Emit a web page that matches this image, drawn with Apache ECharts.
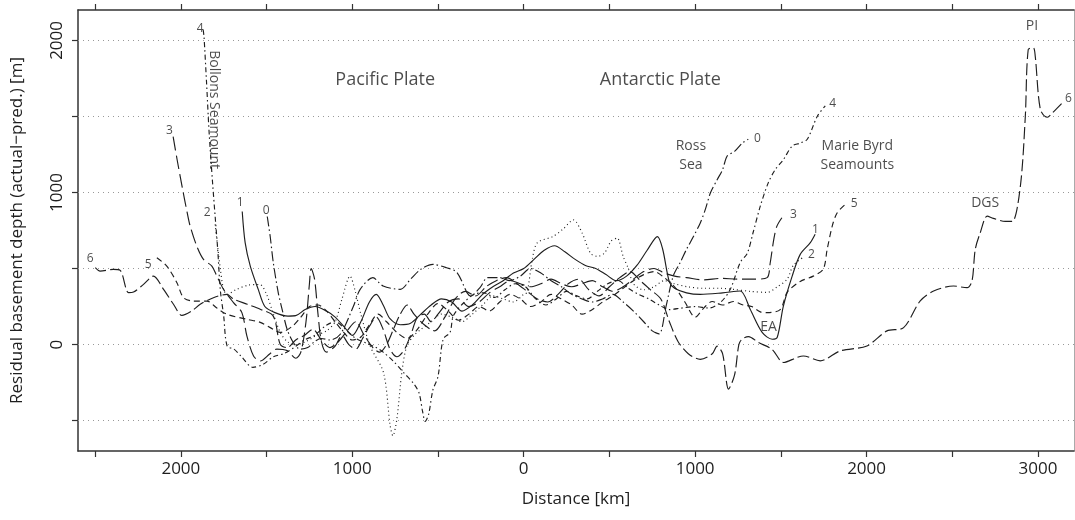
<!DOCTYPE html>
<html><head><meta charset="utf-8">
<script src="https://cdn.jsdelivr.net/npm/echarts@6/dist/echarts.min.js"></script>
<style>html,body{margin:0;padding:0;background:#fff}#c{width:1075px;height:520px}</style>
</head><body><div id="c"></div>
<script>
// Axis ticks / labels (km; negative = Pacific side, shown as absolute distance)
const xTicks = [-2500,-2000,-1500,-1000,-500,0,500,1000,1500,2000,2500,3000];
const xLabels = [-2000,-1000,0,1000,2000,3000];
const yTicks = [-500,0,500,1000,1500,2000];
const yLabels = [0,1000,2000];

// Profiles [distance km, residual depth m]
const profile0 = [[-1496,842],[-1479,712],[-1461,540],[-1432,342],[-1409,230],[-1380,100],[-1345,15],[-1304,-30],[-1260,-20],[-1220,20],[-1180,40],[-1130,30],[-1070,68],[-994,250],[-954,363],[-880,440],[-820,385],[-720,363],[-660,430],[-600,495],[-530,527],[-450,505],[-390,475],[-330,340],[-310,320],[-255,375],[-210,440],[-140,440],[-80,420],[-20,450],[40,500],[100,470],[160,420],[220,380],[280,330],[340,300],[400,280],[460,300],[520,330],[580,280],[640,220],[700,150],[750,90],[790,70],[830,250],[872,450],[913,540],[950,627],[990,710],[1030,800],[1059,887],[1090,1000],[1129,1085],[1160,1150],[1187,1240],[1230,1270],[1275,1325],[1310,1350]];
const profile1 = [[-1642,875],[-1625,670],[-1595,516],[-1548,361],[-1510,250],[-1451,210],[-1375,187],[-1330,190],[-1275,230],[-1217,250],[-1150,220],[-1100,180],[-1050,120],[-1000,60],[-950,150],[-900,280],[-860,330],[-820,260],[-780,170],[-720,130],[-660,140],[-600,200],[-540,260],[-480,300],[-420,280],[-360,220],[-300,260],[-240,330],[-180,380],[-120,420],[-60,470],[0,500],[60,560],[120,620],[180,650],[240,610],[300,560],[360,520],[420,500],[480,460],[540,420],[600,450],[660,520],[720,620],[780,710],[810,630],[850,410],[880,370],[950,340],[1030,330],[1160,340],[1263,352],[1321,232],[1391,80],[1450,35],[1479,48],[1514,250],[1566,450],[1613,593],[1672,670],[1700,725]];
const profile2 = [[-1800,790],[-1785,640],[-1770,500],[-1751,363],[-1730,330],[-1680,360],[-1610,390],[-1540,395],[-1500,330],[-1460,200],[-1420,80],[-1380,20],[-1330,0],[-1270,20],[-1210,60],[-1150,90],[-1100,150],[-1060,300],[-1013,450],[-985,360],[-950,200],[-896,-10],[-818,-184],[-779,-534],[-763,-600],[-740,-490],[-711,-184],[-682,-9],[-640,60],[-600,100],[-540,150],[-480,200],[-420,180],[-360,150],[-300,200],[-240,260],[-180,320],[-120,300],[-60,280],[0,330],[20,343],[50,560],[80,670],[170,710],[230,760],[290,820],[340,735],[390,600],[429,580],[470,600],[510,680],[545,700],[580,580],[610,500],[640,400],[700,360],[760,380],[820,420],[880,400],[954,380],[1050,370],[1150,370],[1222,363],[1320,350],[1420,343],[1480,380],[1537,430],[1572,520],[1625,570]];
const profile3 = [[-2045,1367],[-2022,1217],[-1993,1040],[-1963,867],[-1946,780],[-1907,647],[-1868,560],[-1819,516],[-1790,450],[-1751,363],[-1693,276],[-1644,210],[-1615,57],[-1576,-75],[-1537,-108],[-1480,-60],[-1440,-30],[-1380,-40],[-1330,-90],[-1300,-50],[-1270,150],[-1250,400],[-1240,500],[-1220,430],[-1200,200],[-1180,20],[-1150,-50],[-1100,-10],[-1060,60],[-1020,0],[-980,-30],[-940,40],[-900,120],[-860,180],[-820,100],[-780,-30],[-740,-80],[-700,-40],[-660,60],[-620,180],[-580,200],[-540,150],[-500,200],[-440,280],[-380,300],[-320,250],[-260,280],[-200,340],[-140,380],[-80,420],[-20,400],[40,380],[100,400],[160,430],[220,400],[280,380],[340,400],[400,420],[460,380],[520,350],[580,380],[640,430],[700,480],[760,500],[820,470],[880,450],[950,440],[1050,425],[1150,435],[1250,430],[1350,430],[1420,440],[1438,538],[1460,700],[1477,779],[1506,834]];
const profile4 = [[-1870,2070],[-1865,2025],[-1850,1720],[-1835,1393],[-1815,1064],[-1800,843],[-1785,625],[-1770,361],[-1750,186],[-1730,-10],[-1690,-30],[-1650,-75],[-1580,-150],[-1520,-130],[-1460,-80],[-1400,-60],[-1340,-20],[-1280,30],[-1220,60],[-1160,120],[-1100,150],[-1040,100],[-980,40],[-920,10],[-860,-20],[-820,-50],[-760,-110],[-700,-185],[-640,-260],[-610,-320],[-590,-440],[-575,-505],[-555,-460],[-530,-300],[-500,-210],[-470,35],[-430,80],[-410,190],[-350,275],[-290,330],[-230,340],[-170,310],[-110,360],[-50,400],[10,380],[70,300],[130,260],[190,300],[250,350],[310,320],[370,300],[430,350],[490,400],[550,420],[610,370],[670,330],[730,300],[790,260],[850,230],[920,240],[1000,250],[1080,240],[1150,280],[1205,363],[1263,540],[1304,600],[1339,740],[1380,910],[1427,1065],[1467,1150],[1514,1215],[1566,1305],[1613,1325],[1654,1350],[1712,1500],[1759,1570]];
const profile5 = [[-2140,571],[-2082,516],[-2023,407],[-1985,309],[-1926,286],[-1848,286],[-1790,240],[-1731,199],[-1615,166],[-1537,146],[-1461,100],[-1420,80],[-1350,120],[-1300,180],[-1250,250],[-1200,260],[-1150,220],[-1100,150],[-1050,80],[-1000,30],[-950,50],[-900,130],[-850,200],[-800,150],[-740,80],[-680,40],[-620,100],[-560,200],[-500,270],[-440,220],[-380,160],[-320,200],[-260,250],[-200,220],[-140,280],[-80,330],[-20,300],[40,250],[100,280],[160,330],[220,300],[280,260],[340,200],[400,230],[460,280],[520,320],[580,370],[640,420],[700,460],[760,480],[820,440],[880,380],[940,280],[1000,180],[1050,240],[1100,283],[1160,260],[1222,283],[1280,260],[1330,250],[1380,215],[1420,210],[1496,230],[1537,343],[1613,415],[1689,450],[1747,495],[1770,625],[1800,780],[1829,867],[1887,933]];
const profile6 = [[-2499,506],[-2471,483],[-2394,494],[-2354,488],[-2305,341],[-2276,345],[-2218,396],[-2160,450],[-2101,363],[-2043,265],[-1994,192],[-1936,221],[-1887,265],[-1810,308],[-1731,330],[-1694,300],[-1613,265],[-1537,232],[-1461,187],[-1420,0],[-1380,-20],[-1330,30],[-1280,60],[-1230,100],[-1180,30],[-1130,-20],[-1080,20],[-1030,90],[-980,150],[-930,60],[-880,-20],[-840,-50],[-800,0],[-760,100],[-720,200],[-680,260],[-640,200],[-580,130],[-520,90],[-460,180],[-400,300],[-340,350],[-280,320],[-220,380],[-160,420],[-100,440],[-40,400],[20,350],[80,300],[140,280],[200,330],[260,400],[320,430],[380,360],[440,320],[500,380],[560,440],[620,480],[680,420],[740,360],[800,300],[850,150],[900,20],[960,-60],[1030,-97],[1100,-60],[1128,-10],[1160,-60],[1195,-293],[1230,-200],[1255,0],[1273,35],[1311,52],[1370,13],[1448,-31],[1516,-118],[1594,-85],[1631,-75],[1730,-107],[1846,-42],[2002,-9],[2119,90],[2216,111],[2313,287],[2391,352],[2507,385],[2586,374],[2615,418],[2634,626],[2663,735],[2704,845],[2739,830],[2809,810],[2850,810],[2897,1040],[2926,1500],[2943,1940],[2973,1950],[2984,1895],[3014,1545],[3055,1495],[3085,1525],[3142,1590]];

// Annotations [distance km, depth m, text]
const titleNotes = [[-808,1742,'Pacific Plate'],[797,1742,'Antarctic Plate']];
const featureNotes = [[975,1246,'Ross\nSea'],[1946,1246,'Marie Byrd\nSeamounts'],[2692,933,'DGS'],[2965,2097,'PI'],[1428,118,'EA']];
const rotatedNotes = [[-1805,1545,'Bollons Seamount']];
const profileNumbers = [[-2529,565,'6'],[-2190,526,'5'],[-2067,1407,'3'],[-1887,2077,'4'],[-1846,868,'2'],[-1654,932,'1'],[-1502,880,'0'],
  [1363,1354,'0'],[1802,1582,'4'],[1574,855,'3'],[1701,757,'1'],[1678,593,'2'],[1928,928,'5'],[3178,1617,'6']];

const profiles = [profile0,profile1,profile2,profile3,profile4,profile5,profile6];
const dashes = [[10,3,1.5,3],'solid',[1,3],[14,5],[5,3,1.5,3],[6,4],[12,4]];

const FONT = '"Open Sans", "Noto Sans", sans-serif';
const ink = '#1e1e1e';

const series = profiles.map((p,i)=>({
  type:'line', name:'Profile '+i, data:p, showSymbol:false, symbol:'none',
  smooth:0.3, z:3,
  lineStyle:{color:ink, width:1.15, type:dashes[i]}
}));
// dotted grid lines
series[0].markLine = {
  silent:true, symbol:'none', z:1,
  label:{show:false},
  lineStyle:{color:'#999', type:[1,4], width:1},
  data: yTicks.map(v=>({yAxis:v}))
};
function noteSeries(arr, size, rotate){
  return {
    type:'scatter', data:arr.map(a=>({value:[a[0],a[1]], text:a[2]})), symbolSize:0, z:5, silent:true,
    label:{show:true, position:'inside', formatter:p=>p.data.text, fontFamily:FONT, fontSize:size,
      color:ink, rotate:rotate||0, lineHeight:Math.round(size*1.35), align:'center', verticalAlign:'middle'}
  };
}
series.push(noteSeries(titleNotes,18));
series.push(noteSeries(featureNotes,14));
series.push(noteSeries(rotatedNotes,14,-90));
series.push(noteSeries(profileNumbers,12));

const axisLineStyle = {color:'#333', width:1.5};
const option = {
  animation:false,
  backgroundColor:'#fff',
  grid:{left:78, right:1, top:10, bottom:69},
  xAxis:[{
    type:'value', min:-2600, max:3210,
    axisLine:{show:true, onZero:false, lineStyle:axisLineStyle},
    axisTick:{show:true, customValues:xTicks, length:6, lineStyle:{color:'#333', width:1.2}},
    axisLabel:{customValues:xLabels, formatter:v=>String(Math.abs(v)), fontFamily:FONT, fontSize:17, color:ink, margin:10},
    splitLine:{show:false},
    name:'Distance [km]', nameLocation:'middle', nameGap:40,
    nameTextStyle:{fontFamily:FONT, fontSize:17, color:ink}
  },{
    type:'value', position:'top', min:-2600, max:3210,
    axisLine:{show:true, onZero:false, lineStyle:axisLineStyle},
    axisTick:{show:true, customValues:xTicks, length:6, lineStyle:{color:'#333', width:1.2}},
    axisLabel:{show:false}, splitLine:{show:false}
  }],
  yAxis:[{
    type:'value', min:-700, max:2200,
    axisLine:{show:true, onZero:false, lineStyle:axisLineStyle},
    axisTick:{show:true, customValues:yTicks, length:6, lineStyle:{color:'#333', width:1.2}},
    axisLabel:{customValues:yLabels, formatter:v=>String(v), rotate:90, fontFamily:FONT, fontSize:17, color:ink, margin:12},
    splitLine:{show:false},
    name:'Residual basement depth (actual\u2212pred.) [m]', nameLocation:'middle', nameGap:52,
    nameTextStyle:{fontFamily:FONT, fontSize:17, color:ink}
  },{
    type:'value', position:'right', min:-700, max:2200,
    axisLine:{show:true, onZero:false, lineStyle:{color:'#aaa', width:1}},
    axisTick:{show:false}, axisLabel:{show:false}, splitLine:{show:false}
  }],
  series: series
};
const chart = echarts.init(document.getElementById('c'), null, {renderer:'canvas'});
chart.setOption(option);
</script>
</body></html>
